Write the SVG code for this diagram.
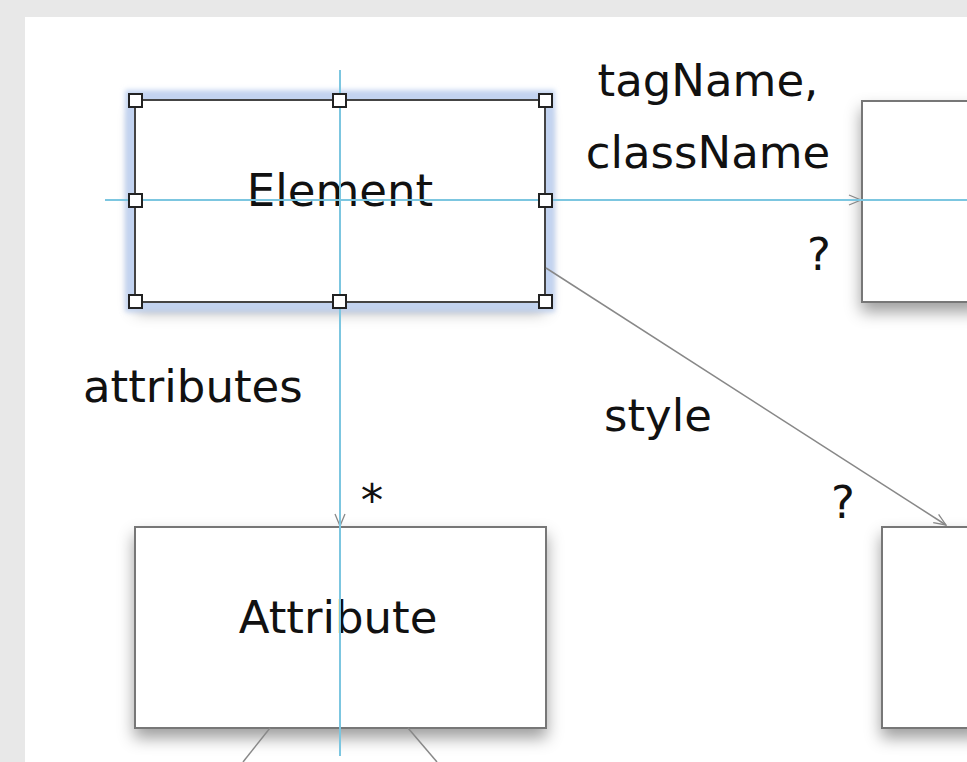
<svg xmlns="http://www.w3.org/2000/svg" width="967" height="762" viewBox="0 0 967 762">
<defs>
<filter id="sh" x="-20%" y="-20%" width="140%" height="150%">
<feDropShadow dx="0" dy="9" stdDeviation="8" flood-color="#000" flood-opacity="0.38"/>
</filter>
<filter id="glow" x="-20%" y="-30%" width="140%" height="160%">
<feGaussianBlur stdDeviation="2.5"/>
</filter>
<marker id="ah" markerWidth="14" markerHeight="12" refX="13" refY="6" orient="auto" markerUnits="userSpaceOnUse">
<path d="M1,1 L13,6 L1,11" fill="none" stroke="#888" stroke-width="1.3"/>
</marker>
<style>
.box{fill:#fff;stroke:#777;stroke-width:2}
.lbl{font-family:"DejaVu Sans",sans-serif;font-size:45px;fill:#111}
.conn{stroke:#888;stroke-width:1.5;fill:none}
.guide{stroke:#7cc6e0;stroke-width:2;fill:none}
.hdl{fill:#fff;stroke:#222;stroke-width:2}
</style>
</defs>
<rect x="0" y="0" width="967" height="762" fill="#e8e8e8"/>
<rect x="25" y="17" width="942" height="745" fill="#fff"/>

<g id="node-tag">
<rect class="box" x="862" y="101" width="120" height="201" filter="url(#sh)"/>
</g>
<g id="node-style">
<rect class="box" x="882" y="527" width="100" height="201" filter="url(#sh)"/>
</g>
<g id="node-attribute">
<rect class="box" x="135" y="527" width="411" height="201" filter="url(#sh)"/>
<text class="lbl" x="338" y="633" text-anchor="middle">Attribute</text>
</g>
<g id="node-element">
<rect x="135" y="100" width="410" height="202" fill="#fff" filter="url(#sh)"/>
<rect x="135" y="100" width="410" height="202" fill="none" stroke="#c2d3f0" stroke-width="20" filter="url(#glow)"/>
<rect x="135" y="100" width="410" height="202" fill="#fff" stroke="#444" stroke-width="2"/>
<text class="lbl" x="340" y="206" text-anchor="middle">Element</text>
</g>

<g id="connectors">
<line class="conn" x1="545" y1="200" x2="861" y2="200" marker-end="url(#ah)"/>
<line class="conn" x1="340" y1="302" x2="340" y2="526" marker-end="url(#ah)"/>
<line class="conn" x1="546" y1="268" x2="946" y2="525" marker-end="url(#ah)"/>
<line class="conn" x1="270" y1="728" x2="243" y2="762" stroke="#666"/>
<line class="conn" x1="408" y1="728" x2="437" y2="762" stroke="#666"/>
<text class="lbl" x="708" y="96" text-anchor="middle">tagName,</text>
<text class="lbl" x="708" y="168" text-anchor="middle">className</text>
<text class="lbl" x="819" y="270" text-anchor="middle">?</text>
<text class="lbl" x="83" y="402">attributes</text>
<text class="lbl" x="372" y="516" text-anchor="middle" font-size="38">*</text>
<text class="lbl" x="658" y="431" text-anchor="middle">style</text>
<text class="lbl" x="843" y="518" text-anchor="middle">?</text>
</g>

<g id="guides">
<line class="guide" x1="105" y1="200" x2="967" y2="200"/>
<line class="guide" x1="340" y1="70" x2="340" y2="756"/>
</g>

<g id="handles">
<rect class="hdl" x="129" y="94" width="13" height="13"/>
<rect class="hdl" x="333" y="94" width="13" height="13"/>
<rect class="hdl" x="539" y="94" width="13" height="13"/>
<rect class="hdl" x="129" y="194" width="13" height="13"/>
<rect class="hdl" x="539" y="194" width="13" height="13"/>
<rect class="hdl" x="129" y="295" width="13" height="13"/>
<rect class="hdl" x="333" y="295" width="13" height="13"/>
<rect class="hdl" x="539" y="295" width="13" height="13"/>
</g>
</svg>
